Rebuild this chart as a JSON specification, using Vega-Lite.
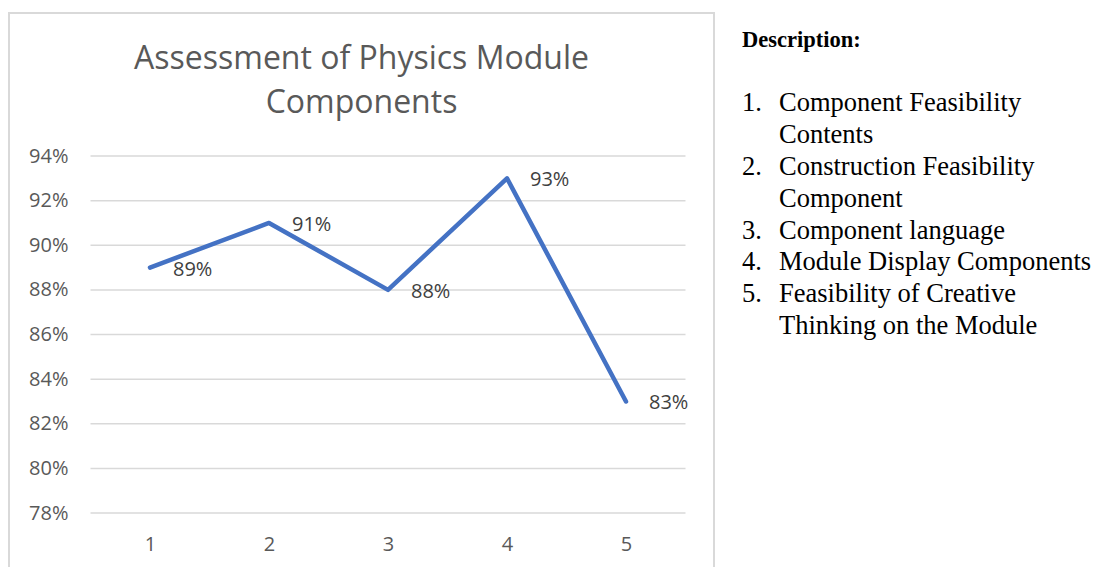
{
  "$schema": "https://vega.github.io/schema/vega-lite/v6.json",
  "padding": {"left": 8, "top": 12, "right": 0, "bottom": 0},
  "background": "white",
  "spacing": 27,
  "datasets": {
    "scores": [
      {"component": 1, "score": 0.89},
      {"component": 2, "score": 0.91},
      {"component": 3, "score": 0.88},
      {"component": 4, "score": 0.93},
      {"component": 5, "score": 0.83}
    ],
    "grid": [
      {"level": 0.78}, {"level": 0.80}, {"level": 0.82}, {"level": 0.84},
      {"level": 0.86}, {"level": 0.88}, {"level": 0.90}, {"level": 0.92}, {"level": 0.94}
    ],
    "items": [
      {"line": 1, "num": "1.", "text": "Component Feasibility"},
      {"line": 2, "num": "", "text": "Contents"},
      {"line": 3, "num": "2.", "text": "Construction Feasibility"},
      {"line": 4, "num": "", "text": "Component"},
      {"line": 5, "num": "3.", "text": "Component language"},
      {"line": 6, "num": "4.", "text": "Module Display Components"},
      {"line": 7, "num": "5.", "text": "Feasibility of Creative"},
      {"line": 8, "num": "", "text": "Thinking on the Module"}
    ],
    "header": [{"line": -1, "text": "Description:"}]
  },
  "hconcat": [
    {
      "width": 705,
      "height": 570,
      "view": {"stroke": "#d9d9d9", "strokeWidth": 2},
      "title": {
        "text": ["Assessment of Physics Module", "Components"],
        "font": "Open Sans",
        "fontSize": 32,
        "fontWeight": "normal",
        "color": "#595959",
        "anchor": "middle",
        "frame": "group",
        "baseline": "top",
        "lineHeight": 44,
        "offset": -107
      },
      "layer": [
        {
          "data": {"name": "grid"},
          "mark": {"type": "rule", "color": "#d9d9d9", "strokeWidth": 1.5},
          "encoding": {
            "x": {"datum": 0.5, "type": "quantitative"},
            "x2": {"datum": 5.5},
            "y": {"field": "level", "type": "quantitative"}
          }
        },
        {
          "data": {"name": "scores"},
          "mark": {"type": "line", "color": "#4472C4", "strokeWidth": 4.5, "strokeCap": "round", "strokeJoin": "round"},
          "encoding": {
            "x": {"field": "component", "type": "quantitative"},
            "y": {"field": "score", "type": "quantitative"}
          }
        },
        {
          "data": {"name": "scores"},
          "mark": {"type": "text", "align": "left", "baseline": "middle", "dx": 23, "dy": 2, "font": "Open Sans", "fontSize": 20, "color": "#404040"},
          "encoding": {
            "x": {"field": "component", "type": "quantitative"},
            "y": {"field": "score", "type": "quantitative"},
            "text": {"field": "score", "type": "quantitative", "format": ".0%"}
          }
        }
      ],
      "encoding": {
        "x": {
          "type": "quantitative",
          "scale": {"domain": [-0.1849, 5.7395], "nice": false, "zero": false},
          "axis": {
            "values": [1, 2, 3, 4, 5],
            "title": null,
            "grid": false,
            "domain": false,
            "ticks": false,
            "orient": "bottom",
            "offset": -49,
            "labelPadding": 0,
            "labelBaseline": "top",
            "labelFont": "Open Sans",
            "labelFontSize": 20,
            "labelColor": "#595959"
          }
        },
        "y": {
          "type": "quantitative",
          "scale": {"domain": [0.74863, 1.00409], "nice": false, "zero": false},
          "axis": {
            "values": [0.78, 0.80, 0.82, 0.84, 0.86, 0.88, 0.90, 0.92, 0.94],
            "format": ".0%",
            "title": null,
            "grid": false,
            "domain": false,
            "ticks": false,
            "offset": -59,
            "labelPadding": 0,
            "labelFont": "Open Sans",
            "labelFontSize": 20,
            "labelColor": "#595959"
          }
        }
      }
    },
    {
      "width": 350,
      "height": 353,
      "view": {"stroke": null},
      "layer": [
        {
          "data": {"name": "header"},
          "mark": {"type": "text", "align": "left", "baseline": "alphabetic", "font": "Liberation Serif", "fontSize": 22.5, "fontWeight": "bold", "color": "#000000"},
          "encoding": {
            "x": {"datum": 0, "type": "quantitative"},
            "y": {"field": "line", "type": "quantitative"},
            "text": {"field": "text"}
          }
        },
        {
          "data": {"name": "items"},
          "mark": {"type": "text", "align": "left", "baseline": "alphabetic", "font": "Liberation Serif", "fontSize": 26.5, "color": "#000000"},
          "encoding": {
            "x": {"datum": 0, "type": "quantitative"},
            "y": {"field": "line", "type": "quantitative"},
            "text": {"field": "num"}
          }
        },
        {
          "data": {"name": "items"},
          "mark": {"type": "text", "align": "left", "baseline": "alphabetic", "dx": 37, "font": "Liberation Serif", "fontSize": 26.5, "color": "#000000"},
          "encoding": {
            "x": {"datum": 0, "type": "quantitative"},
            "y": {"field": "line", "type": "quantitative"},
            "text": {"field": "text"}
          }
        }
      ],
      "resolve": {"scale": {"x": "shared", "y": "shared"}},
      "encoding": {
        "x": {"type": "quantitative", "scale": {"domain": [0, 1], "nice": false, "zero": false}, "axis": null},
        "y": {"type": "quantitative", "scale": {"domain": [-2.08, 9], "nice": false, "zero": false, "reverse": true}, "axis": null}
      }
    }
  ]
}
